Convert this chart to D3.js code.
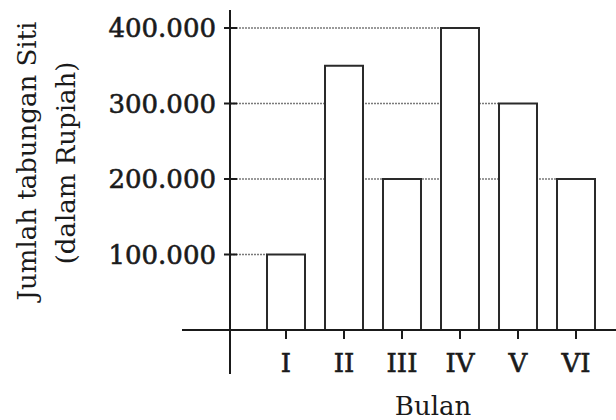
<!DOCTYPE html>
<html><head><meta charset="utf-8">
<script src="https://cdn.jsdelivr.net/npm/d3@7"></script>
<style>body{margin:0;background:#fff}svg{display:block}text{font-family:"DejaVu Serif",serif;fill:#1a1a1a}.bold{stroke:#1a1a1a;stroke-width:0.6px}</style>
</head><body>
<script>
const categories = ["I","II","III","IV","V","VI"];
const values = [100000,350000,200000,400000,300000,200000];
const yTicks = [100000,200000,300000,400000];
const yTickLabels = ["100.000","200.000","300.000","400.000"];
const xTitle = "Bulan";
const yTitle = ["Jumlah tabungan Siti","(dalam Rupiah)"];

const W=616,H=420;
const svg=d3.select("body").append("svg").attr("width",W).attr("height",H);
const x=d3.scaleBand().domain(categories).range([257,605]).paddingInner(0.345).paddingOuter(0.1725);
const y=d3.scaleLinear().domain([0,400000]).range([330,28]);
const axisX=230;

// gridlines: from axis to left edge of last bar reaching that value
yTicks.forEach(t=>{
  let last=-1; values.forEach((v,i)=>{ if(v>=t) last=i; });
  let lastEq=-1; values.forEach((v,i)=>{ if(v===t) lastEq=i; });
  const idx = lastEq>=0?lastEq:last;
  if(idx<0) return;
  svg.append("line").attr("x1",axisX).attr("x2",x(categories[idx]))
    .attr("y1",y(t)).attr("y2",y(t))
    .attr("stroke","#7a7a7a").attr("stroke-width",1.5).attr("stroke-dasharray","2,1");
});

// bars
svg.selectAll("rect.bar").data(categories).enter().append("rect")
  .attr("x",d=>x(d)).attr("width",x.bandwidth())
  .attr("y",(d,i)=>y(values[i])).attr("height",(d,i)=>y(0)-y(values[i]))
  .attr("fill","#fff").attr("stroke","#2a2a2a").attr("stroke-width",2);

// x axis line
svg.append("line").attr("x1",182).attr("x2",W).attr("y1",y(0)).attr("y2",y(0)).attr("stroke","#1a1a1a").attr("stroke-width",2);
// y axis line
svg.append("line").attr("x1",axisX).attr("x2",axisX).attr("y1",10).attr("y2",374).attr("stroke","#1a1a1a").attr("stroke-width",2);

// y ticks
yTicks.forEach((t,i)=>{
  svg.append("line").attr("x1",224).attr("x2",237).attr("y1",y(t)).attr("y2",y(t)).attr("stroke","#1a1a1a").attr("stroke-width",2);
  svg.append("text").attr("class","bold").attr("x",216).attr("y",y(t)).attr("dy","0.36em").attr("text-anchor","end")
    .attr("font-size",26).text(yTickLabels[i]);
});

// x ticks
categories.forEach(c=>{
  const cx=x(c)+x.bandwidth()/2;
  svg.append("line").attr("x1",cx).attr("x2",cx).attr("y1",y(0)).attr("y2",y(0)+9).attr("stroke","#1a1a1a").attr("stroke-width",2);
  svg.append("text").attr("class","bold").attr("x",cx).attr("y",372).attr("text-anchor","middle").attr("font-size",26).text(c);
});

svg.append("text").attr("x",433).attr("y",415).attr("text-anchor","middle").attr("font-size",26).text(xTitle);

svg.append("text").attr("transform","translate(36,161) rotate(-90)").attr("text-anchor","middle").attr("font-size",26).text(yTitle[0]);
svg.append("text").attr("transform","translate(75,163) rotate(-90)").attr("text-anchor","middle").attr("font-size",26).text(yTitle[1]);
</script>
</body></html>
